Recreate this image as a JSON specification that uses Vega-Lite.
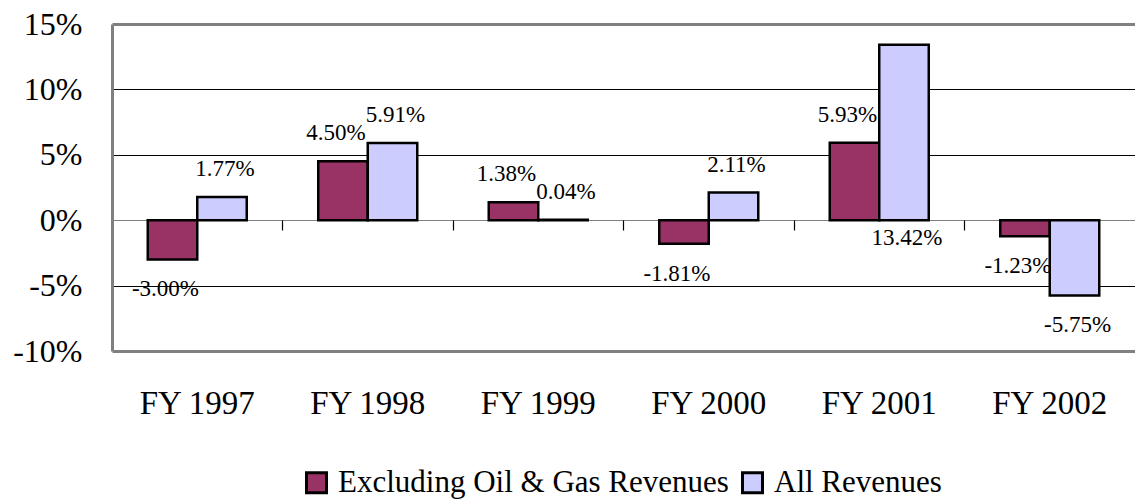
{
  "$schema": "https://vega.github.io/schema/vega-lite/v6.json",
  "width": 1023,
  "height": 327,
  "autosize": {"type": "none"},
  "padding": {"left": 112, "top": 24, "right": 0, "bottom": 153},
  "background": "white",
  "config": {
    "view": {"stroke": null},
    "font": "Liberation Serif",
    "locale": {"number": {"decimal": ".", "thousands": ",", "grouping": [3], "currency": ["$", ""], "minus": "-"}}
  },
  "data": {
    "values": [
      {"year": "FY 1997", "series": "Excluding Oil & Gas Revenues", "value": -0.0300},
      {"year": "FY 1997", "series": "All Revenues", "value": 0.0177},
      {"year": "FY 1998", "series": "Excluding Oil & Gas Revenues", "value": 0.0450},
      {"year": "FY 1998", "series": "All Revenues", "value": 0.0591},
      {"year": "FY 1999", "series": "Excluding Oil & Gas Revenues", "value": 0.0138},
      {"year": "FY 1999", "series": "All Revenues", "value": 0.0004},
      {"year": "FY 2000", "series": "Excluding Oil & Gas Revenues", "value": -0.0181},
      {"year": "FY 2000", "series": "All Revenues", "value": 0.0211},
      {"year": "FY 2001", "series": "Excluding Oil & Gas Revenues", "value": 0.0593},
      {"year": "FY 2001", "series": "All Revenues", "value": 0.1342},
      {"year": "FY 2002", "series": "Excluding Oil & Gas Revenues", "value": -0.0123},
      {"year": "FY 2002", "series": "All Revenues", "value": -0.0575}
    ]
  },
  "layer": [
    {
      "mark": {"type": "bar", "stroke": "black", "strokeWidth": 2.5},
      "encoding": {
        "x": {
          "field": "year", "type": "nominal", "sort": null,
          "scale": {"paddingInner": 0, "paddingOuter": 0},
          "axis": {
            "orient": "bottom", "title": null, "domain": false, "ticks": false,
            "labelAngle": 0, "labelFont": "Liberation Serif", "labelFontSize": 33,
            "labelColor": "black", "labelBaseline": "middle", "labelPadding": 52, "grid": false
          }
        },
        "xOffset": {
          "field": "series", "type": "nominal",
          "scale": {"domain": ["Excluding Oil & Gas Revenues", "All Revenues"], "paddingInner": 0, "paddingOuter": 0.722}
        },
        "y": {
          "field": "value", "type": "quantitative",
          "scale": {"domain": [-0.1, 0.15], "nice": false},
          "axis": {
            "title": null, "values": [-0.1, -0.05, 0, 0.05, 0.1, 0.15], "format": ".0%",
            "labelFont": "Liberation Serif", "labelFontSize": 32, "labelColor": "black",
            "labelPadding": 30, "ticks": false,
            "domain": true, "domainColor": "#808080", "domainWidth": 3,
            "grid": true,
            "gridColor": {"condition": {"test": "datum.value == 0.15 || datum.value == -0.1 || datum.value == 0", "value": "#808080"}, "value": "black"},
            "gridWidth": {"condition": {"test": "datum.value == 0.15 || datum.value == -0.1", "value": 3}, "value": 1.2}
          }
        },
        "color": {
          "field": "series", "type": "nominal",
          "scale": {"domain": ["Excluding Oil & Gas Revenues", "All Revenues"], "range": ["#993366", "#CCCCFF"]},
          "legend": {
            "title": null, "orient": "none", "direction": "horizontal",
            "legendX": 189, "legendY": 443, "padding": 0,
            "symbolType": "square", "symbolSize": 400, "symbolStrokeColor": "black", "symbolStrokeWidth": 3,
            "symbolOpacity": 1, "symbolFillOpacity": 1,
            "labelFont": "Liberation Serif", "labelFontSize": 31, "labelColor": "black",
            "labelOffset": 6, "columnPadding": 7, "labelLimit": 600
          }
        }
      }
    },
    {
      "mark": {
        "type": "text", "font": "Liberation Serif", "fontSize": 23, "color": "black",
        "baseline": "middle", "align": "center",
        "dy": {"expr": "datum.value > 0.12 ? scale('y', 0) - scale('y', datum.value) + 18 : (datum.value >= 0 ? -28 : 30)"},
        "dx": {"expr": "datum.series == 'All Revenues' ? 3 : -7"}
      },
      "encoding": {
        "x": {
          "field": "year", "type": "nominal", "sort": null,
          "axis": {
            "orient": "bottom", "title": null, "offset": -131, "labels": false,
            "domain": false, "ticks": true, "bandPosition": 0, "tickExtra": true,
            "tickSize": 10, "tickColor": "black", "tickWidth": 1.2, "grid": false
          }
        },
        "xOffset": {"field": "series", "type": "nominal"},
        "y": {"field": "value", "type": "quantitative"},
        "text": {"field": "value", "type": "quantitative", "format": ".2%"}
      }
    }
  ],
  "resolve": {"axis": {"x": "independent"}}
}
